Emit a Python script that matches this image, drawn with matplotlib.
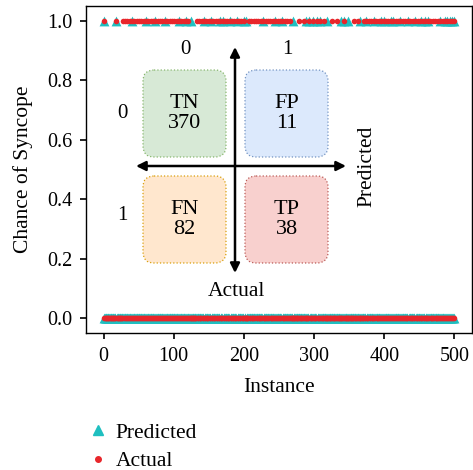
"""
plot.py - predicted vs actual syncope per instance, with confusion matrix inset.
"""

import numpy as np
import matplotlib
matplotlib.use("Agg")
import matplotlib.pyplot as plt
from matplotlib.patches import FancyBboxPatch
from matplotlib.lines import Line2D

# ---------------------------------------------------------------------------
# Data
# ---------------------------------------------------------------------------

N_INSTANCES = 501

# instances whose actual label is 1 (syncope)
actual_pos = [
    1, 18,
    28, 31, 34, 38, 41, 44, 47, 51, 54, 57, 61, 64, 67, 70, 74, 77, 80, 84,
    87, 90, 94, 97, 100, 104, 107, 110, 114, 117, 121,
    133, 136, 140, 143, 146, 150, 153, 156, 160, 163, 166, 170, 173, 176,
    180, 183, 186, 190, 193, 196, 200,
    207, 210, 214, 217, 220, 224, 227, 231, 234, 237, 241, 244, 248, 251,
    254, 258, 261, 265,
    278, 285, 293, 298, 304, 309, 314, 326, 333, 343, 357, 362,
    371, 374, 378, 381, 385, 388, 392, 395, 399, 402, 406, 409, 413, 416,
    420, 423, 427, 430, 434, 437, 441, 444, 448, 451, 455, 458, 462, 465,
    469, 472, 476, 479, 483, 486, 490, 493, 497, 500,
]

# instances the model predicted as 1
predicted_pos = [
    1, 18, 41, 61, 74, 87, 107, 117, 125, 143, 153, 166, 170, 180, 190, 200,
    203, 227, 244, 254, 270, 289, 293, 298, 304, 309, 318, 338, 343, 349,
    366, 374, 385, 396, 399, 409, 413, 423, 434, 444, 452, 458, 462, 479,
    486, 489, 493, 497, 500,
]

# confusion matrix cells: (label, count)
cm_labels = ["TN", "FP", "FN", "TP"]
cm_counts = [370, 11, 82, 38]

instance = np.arange(N_INSTANCES)
actual = np.isin(instance, actual_pos).astype(int)
predicted = np.isin(instance, predicted_pos).astype(int)

# ---------------------------------------------------------------------------
# Style
# ---------------------------------------------------------------------------

plt.rcParams["font.family"] = ["Liberation Serif", "DejaVu Serif"]

TEAL = "#1fbfc0"
RED = "#e8262b"
BOX_FILL = ["#d5e8d4", "#dae8fc", "#ffe6cc", "#f8cecc"]
BOX_EDGE = ["#82b366", "#6c8ebf", "#d79b00", "#b85450"]

# ---------------------------------------------------------------------------
# Main plot
# ---------------------------------------------------------------------------

fig = plt.figure(figsize=(4.73, 4.70), dpi=100)
ax = fig.add_axes([86 / 473, 1 - 333 / 470, 386 / 473, 327 / 470])

ax.scatter(instance, predicted, marker="^", s=50, color=TEAL, linewidths=0,
           zorder=2)
ax.scatter(instance, actual, marker="o", s=16, color=RED, linewidths=0,
           zorder=3)

ax.set_xticks([0, 100, 200, 300, 400, 500])
ax.set_yticks([0.0, 0.2, 0.4, 0.6, 0.8, 1.0])
ax.set_yticklabels(["0.0", "0.2", "0.4", "0.6", "0.8", "1.0"])
ax.tick_params(labelsize=14.5, length=4, width=1.2, direction="out", pad=6)
ax.set_xlabel("Instance", fontsize=15.5, labelpad=9)
ax.set_ylabel("Chance of Syncope", fontsize=15.5, labelpad=10)
for spine in ax.spines.values():
    spine.set_linewidth(1.0)

# ---------------------------------------------------------------------------
# Confusion matrix inset (drawn in figure pixel coords)
# ---------------------------------------------------------------------------

ov = fig.add_axes([0, 0, 1, 1], facecolor="none")
ov.set_xlim(0, 473)
ov.set_ylim(470, 0)
ov.axis("off")

box_pos = [(143, 70), (245, 70), (143, 176), (245, 176)]
BOX_W, BOX_H = 83, 87
for (x0, y0), lab, cnt, fc, ec in zip(box_pos, cm_labels, cm_counts,
                                      BOX_FILL, BOX_EDGE):
    ov.add_patch(FancyBboxPatch(
        (x0, y0), BOX_W, BOX_H,
        boxstyle="round,pad=0,rounding_size=11",
        facecolor=fc, edgecolor=ec, linewidth=0.9, linestyle=":", alpha=0.95,
    ))
    ov.text(x0 + BOX_W / 2, y0 + BOX_H / 2, f"{lab}\n{cnt}",
            ha="center", va="center", fontsize=16, linespacing=1.05)

arrow = dict(arrowstyle="<|-|>", color="black", lw=1.8,
             mutation_scale=14, shrinkA=0, shrinkB=0)
ov.annotate("", xy=(235, 47), xytext=(235, 273), arrowprops=arrow)
ov.annotate("", xy=(136, 166), xytext=(346, 166), arrowprops=arrow)

ov.text(185, 50, "0", ha="center", va="center", fontsize=15)
ov.text(287, 50, "1", ha="center", va="center", fontsize=15)
ov.text(122, 113, "0", ha="center", va="center", fontsize=15)
ov.text(122, 215, "1", ha="center", va="center", fontsize=15)
ov.text(367, 166, "Predicted", ha="center", va="center", fontsize=15.5,
        rotation=90)
ov.text(236, 291, "Actual", ha="center", va="center", fontsize=15.5)

# ---------------------------------------------------------------------------
# Legend
# ---------------------------------------------------------------------------

handles = [
    Line2D([], [], marker="^", linestyle="none", color=TEAL, markersize=7),
    Line2D([], [], marker="o", linestyle="none", color=RED, markersize=4),
]
fig.legend(handles, ["Predicted", "Actual"], loc="center left",
           bbox_to_anchor=(68 / 473, 1 - 447 / 470), frameon=False,
           fontsize=15.5, handlelength=1.0, handletextpad=0.3,
           labelspacing=0.4)

fig.savefig("out.png", dpi=100)
